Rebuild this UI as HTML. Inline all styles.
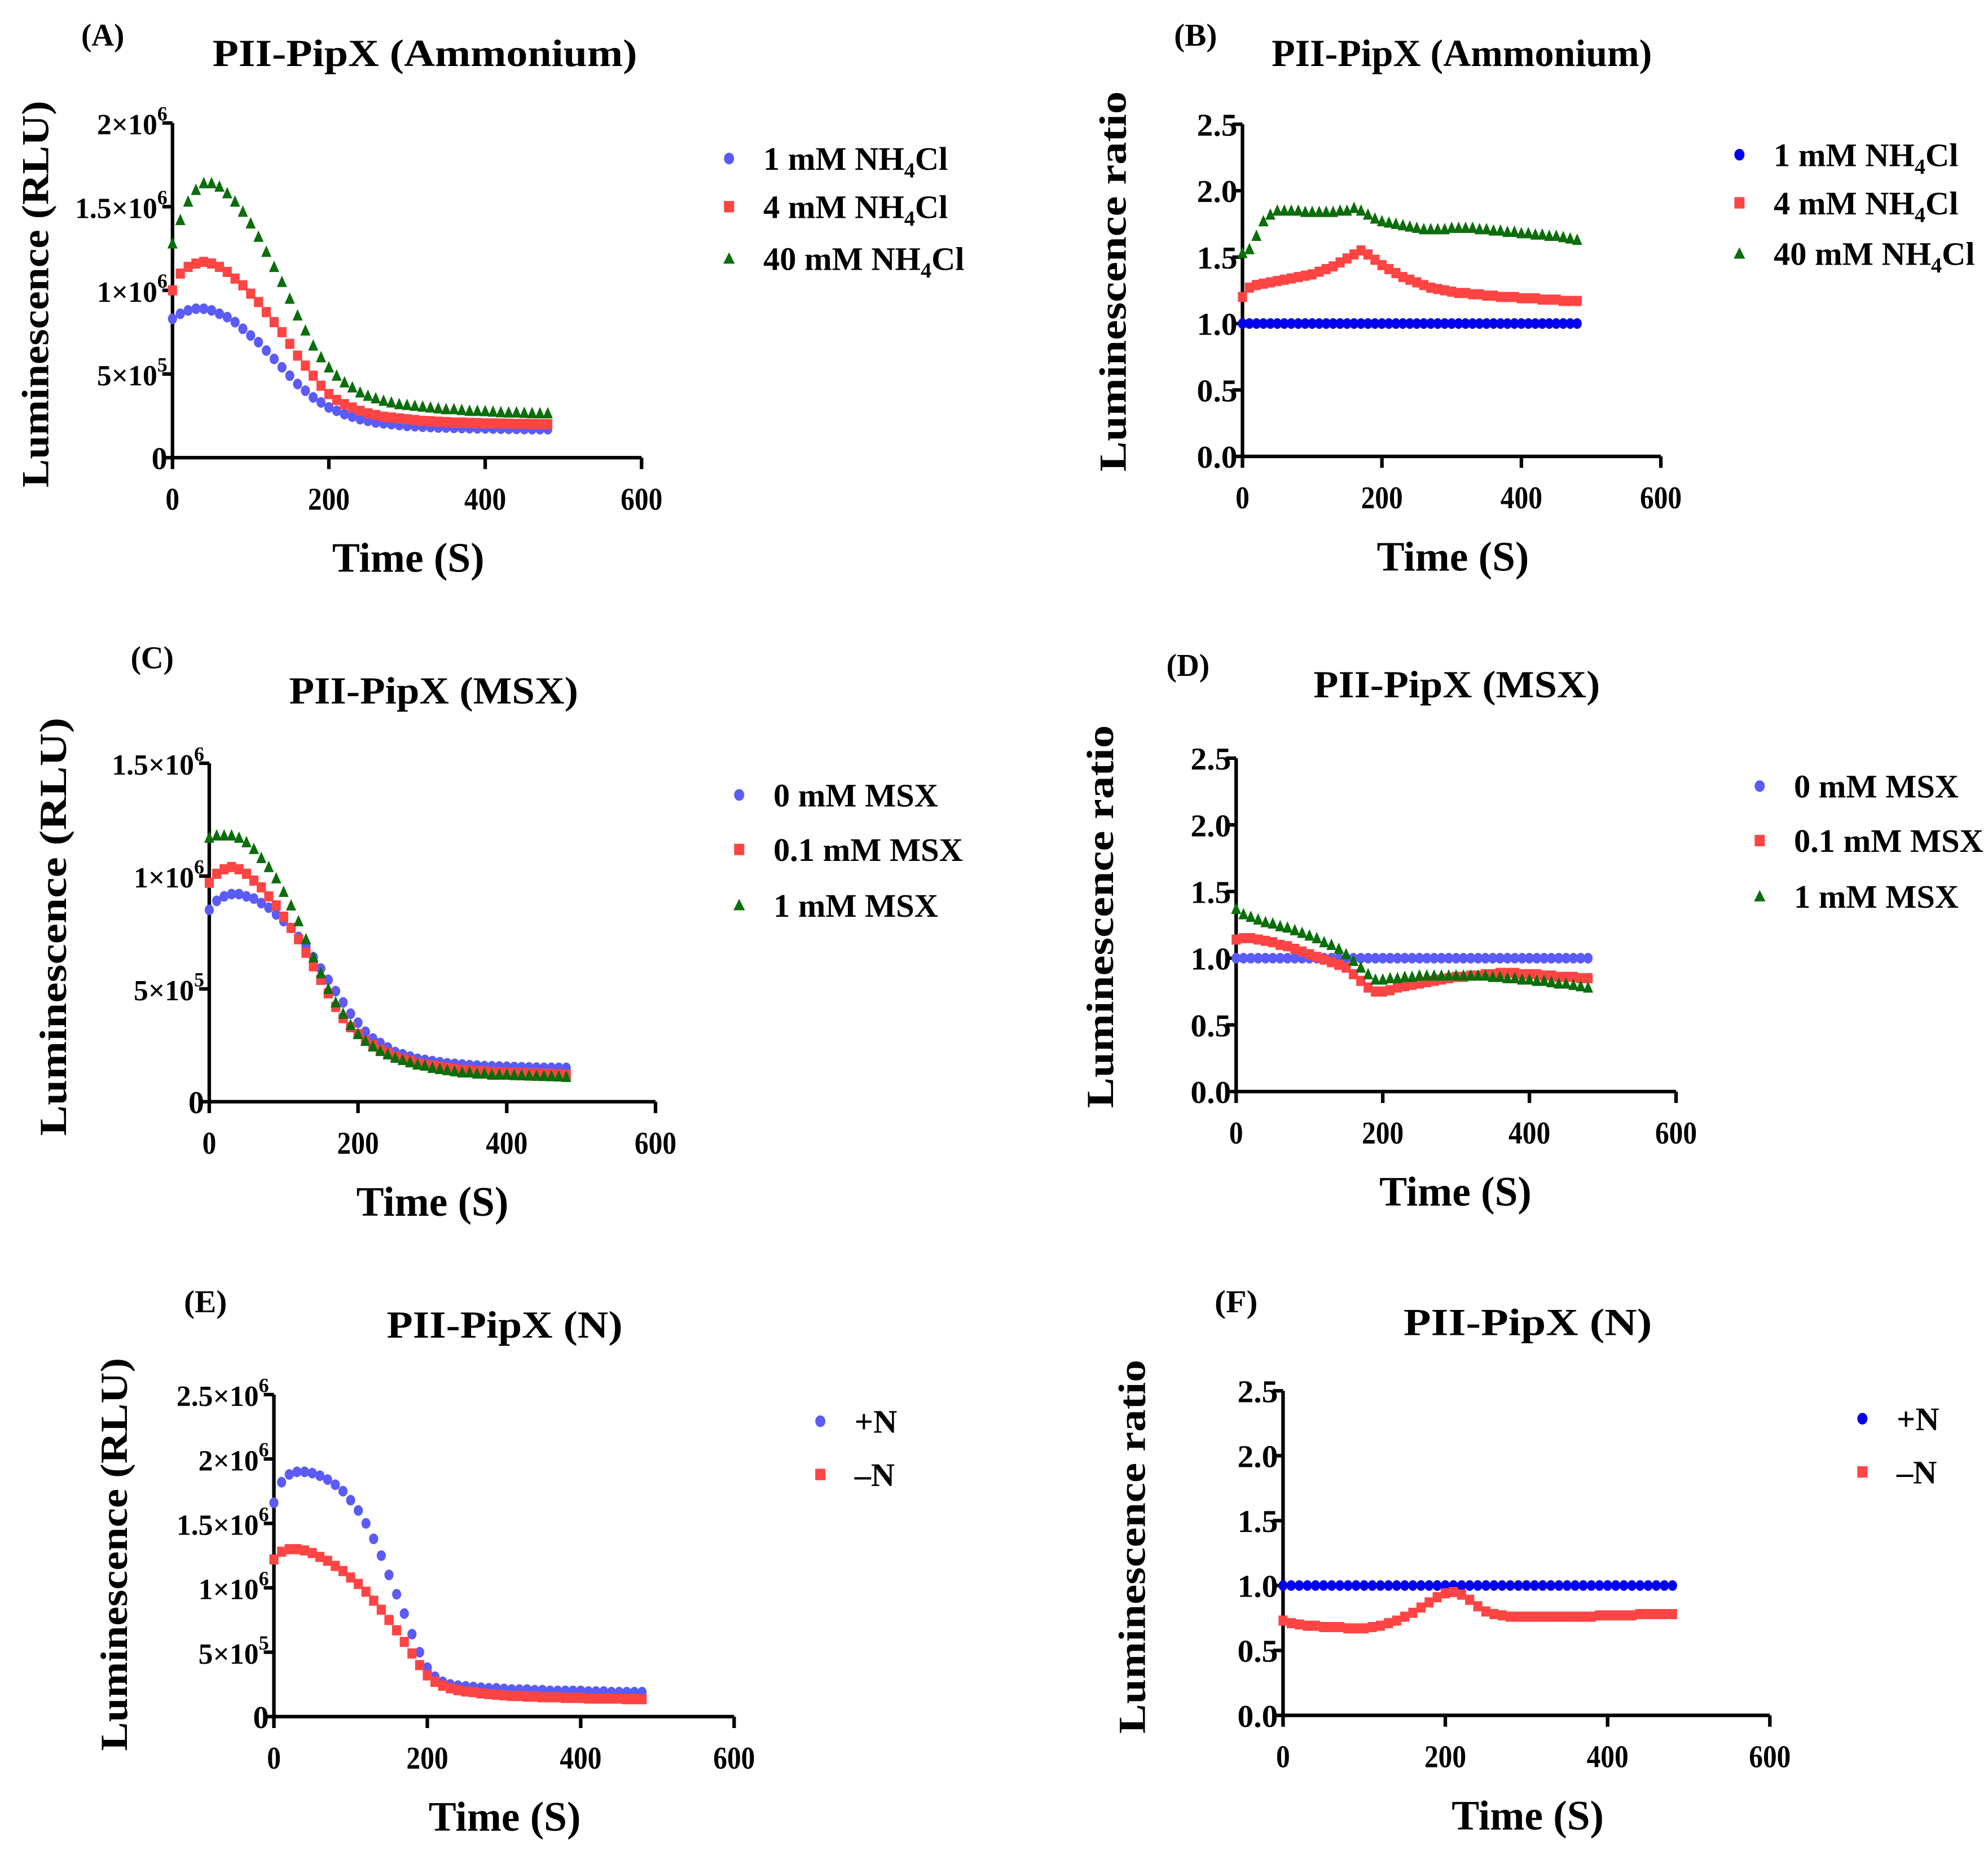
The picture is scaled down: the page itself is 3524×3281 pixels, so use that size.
<!DOCTYPE html>
<html><head><meta charset="utf-8"><style>
html,body{margin:0;padding:0;background:#fff}
svg{display:block}
text{font-family:"Liberation Serif","Times New Roman",serif;font-weight:bold;fill:#000}
</style></head><body>
<svg id="fig" width="3524" height="3281" viewBox="0 0 1568 1460" xmlns="http://www.w3.org/2000/svg"></svg>
<script>
const times=[0,10,20,30,40,50,60,70,80,90,100,110,120,130,140,150,160,170,180,190,200,210,220,230,240,250,260,270,280,290,300,310,320,330,340,350,360,370,380,390,400,410,420,430,440,450,460,470,480];
const xTicks=[0,200,400,600];
// Panel A (x1e6)
const a1=[.83,.86,.88,.89,.89,.88,.86,.84,.81,.77,.73,.69,.64,.59,.54,.49,.44,.40,.36,.33,.30,.28,.26,.245,.23,.22,.21,.205,.20,.195,.19,.188,.185,.183,.18,.18,.178,.177,.176,.175,.175,.174,.173,.172,.172,.171,.17,.17,.17];
const a4=[1.0,1.10,1.14,1.16,1.17,1.16,1.14,1.11,1.07,1.03,.98,.93,.87,.81,.75,.68,.61,.55,.49,.43,.38,.345,.32,.30,.28,.265,.255,.245,.24,.235,.23,.225,.22,.218,.215,.213,.21,.21,.208,.207,.205,.205,.204,.203,.202,.202,.201,.20,.20];
const a40=[1.28,1.42,1.53,1.60,1.64,1.64,1.62,1.58,1.53,1.47,1.40,1.32,1.23,1.14,1.05,.95,.85,.76,.67,.60,.54,.49,.45,.42,.39,.37,.355,.34,.33,.32,.315,.31,.305,.30,.295,.29,.29,.285,.28,.28,.278,.275,.272,.27,.27,.268,.266,.265,.265];
// Panel B ratios
const b1=[1,1,1,1,1,1,1,1,1,1,1,1,1,1,1,1,1,1,1,1,1,1,1,1,1,1,1,1,1,1,1,1,1,1,1,1,1,1,1,1,1,1,1,1,1,1,1,1,1];
const b4=[1.2,1.27,1.29,1.30,1.31,1.32,1.33,1.34,1.35,1.36,1.37,1.39,1.41,1.43,1.46,1.49,1.52,1.55,1.52,1.48,1.44,1.41,1.38,1.35,1.33,1.31,1.29,1.27,1.26,1.25,1.24,1.23,1.23,1.22,1.22,1.21,1.21,1.20,1.20,1.20,1.19,1.19,1.19,1.18,1.18,1.18,1.17,1.17,1.17];
const b40=[1.53,1.56,1.66,1.77,1.82,1.85,1.85,1.85,1.85,1.84,1.84,1.84,1.84,1.84,1.85,1.85,1.87,1.85,1.82,1.79,1.77,1.76,1.75,1.74,1.73,1.72,1.71,1.71,1.71,1.71,1.72,1.72,1.72,1.72,1.71,1.71,1.70,1.70,1.69,1.69,1.68,1.68,1.67,1.67,1.66,1.66,1.65,1.64,1.63];
// Panel C (x1e6)
const c0=[.85,.89,.91,.92,.92,.91,.90,.88,.86,.83,.80,.77,.73,.69,.64,.59,.54,.49,.44,.39,.35,.31,.28,.26,.24,.22,.21,.20,.19,.185,.18,.175,.17,.168,.165,.162,.16,.158,.157,.156,.155,.154,.153,.152,.151,.15,.15,.15,.15];
const c01=[.97,1.01,1.03,1.04,1.03,1.01,.98,.95,.91,.87,.82,.77,.72,.66,.60,.54,.48,.42,.37,.33,.30,.27,.25,.23,.215,.20,.19,.18,.17,.165,.16,.155,.15,.145,.14,.14,.135,.135,.13,.13,.13,.128,.127,.126,.125,.124,.123,.122,.12];
const c1=[1.17,1.18,1.18,1.18,1.17,1.15,1.12,1.08,1.04,.99,.93,.87,.80,.72,.64,.57,.50,.44,.39,.34,.30,.27,.245,.225,.21,.195,.185,.175,.165,.16,.15,.145,.14,.135,.13,.13,.125,.125,.12,.12,.12,.118,.117,.116,.115,.114,.113,.112,.11];
// Panel D ratios
const d0=[1,1,1,1,1,1,1,1,1,1,1,1,1,1,1,1,1,1,1,1,1,1,1,1,1,1,1,1,1,1,1,1,1,1,1,1,1,1,1,1,1,1,1,1,1,1,1,1,1];
const d01=[1.14,1.15,1.15,1.14,1.13,1.12,1.10,1.09,1.07,1.05,1.03,1.01,.99,.97,.95,.93,.88,.83,.78,.75,.75,.76,.78,.79,.80,.81,.82,.83,.84,.85,.86,.86,.87,.87,.88,.88,.89,.89,.89,.88,.88,.88,.87,.87,.86,.86,.86,.85,.85];
const d1=[1.37,1.33,1.31,1.29,1.27,1.26,1.24,1.23,1.21,1.19,1.17,1.15,1.12,1.10,1.07,1.03,.98,.93,.88,.84,.84,.85,.85,.86,.86,.87,.87,.87,.87,.87,.87,.87,.87,.87,.87,.86,.86,.85,.85,.84,.84,.83,.83,.82,.81,.81,.80,.79,.78];
// Panel E (x1e6)
const ePlus=[1.66,1.82,1.88,1.90,1.90,1.89,1.87,1.84,1.80,1.75,1.68,1.60,1.50,1.38,1.25,1.10,.95,.80,.64,.50,.38,.31,.27,.25,.24,.235,.23,.225,.22,.22,.215,.21,.21,.21,.205,.205,.20,.20,.20,.20,.20,.195,.195,.195,.19,.19,.19,.19,.19];
const eMinus=[1.22,1.28,1.30,1.30,1.29,1.27,1.24,1.21,1.17,1.13,1.08,1.03,.97,.90,.83,.75,.67,.58,.49,.40,.32,.27,.24,.22,.205,.195,.19,.18,.175,.17,.165,.16,.16,.155,.155,.15,.15,.15,.145,.145,.145,.14,.14,.14,.14,.14,.135,.135,.135];
// Panel F ratios
const fPlus=[1,1,1,1,1,1,1,1,1,1,1,1,1,1,1,1,1,1,1,1,1,1,1,1,1,1,1,1,1,1,1,1,1,1,1,1,1,1,1,1,1,1,1,1,1,1,1,1,1];
const fMinus=[.73,.71,.70,.69,.69,.68,.68,.68,.67,.67,.67,.68,.69,.71,.73,.76,.79,.83,.87,.91,.94,.95,.93,.89,.84,.80,.78,.77,.76,.76,.76,.76,.76,.76,.76,.76,.76,.76,.76,.77,.77,.77,.77,.77,.78,.78,.78,.78,.78];
const sciTicks2=[0,0.5,1,1.5,2];
const sciTicks15=[0,0.5,1,1.5];
const sciTicks25=[0,0.5,1,1.5,2,2.5];
const ratioTicks=[0,0.5,1,1.5,2,2.5];

const NS="http://www.w3.org/2000/svg";
const svg=document.getElementById('fig');
function mk(tag,attrs,parent){const e=document.createElementNS(NS,tag);for(const k in attrs)e.setAttribute(k,attrs[k]);(parent||svg).appendChild(e);return e;}
function sciLabel(v){
  if(v===0)return ['0',''];
  if(v<1){return [(v*10).toString()+'×10','5'];}
  return [v.toString()+'×10','6'];
}
function drawPanel(P){
  const g=mk('g',{});
  
  
  const xs=t=>P.x0+(t/600)*(P.x1-P.x0);
  const ys=v=>P.y0-(v/P.ymax)*(P.y0-P.y1);
  let t=mk('text',{x:P.lx,y:P.ly,'font-size':25,textLength:34,lengthAdjust:'spacingAndGlyphs'},g);t.textContent=P.letter;
  
  t=mk('text',{x:P.tx,y:P.ty,'font-size':30,'text-anchor':'middle',textLength:P.tl,lengthAdjust:'spacingAndGlyphs'},g);t.textContent=P.title;
  
  t=mk('text',{x:0,y:0,'font-size':30,'text-anchor':'middle',transform:`translate(${P.yx},${P.yc}) rotate(-90)`,textLength:P.yl,lengthAdjust:'spacingAndGlyphs'},g);t.textContent=P.ylabel;
  
  t=mk('text',{x:P.xlx,y:P.y0+90,'font-size':33,'text-anchor':'middle',textLength:120,lengthAdjust:'spacingAndGlyphs'},g);t.textContent='Time (S)';
  
  let a=mk('line',{x1:P.x0,y1:P.y0,x2:P.x1,y2:P.y0,stroke:'#000','stroke-width':2.8},g);
  
  a=mk('line',{x1:P.x0,y1:P.y0+1.4,x2:P.x0,y2:P.y1,stroke:'#000','stroke-width':2.8},g);
  
  xTicks.forEach(v=>{
    const x=xs(v);
    let l=mk('line',{x1:x,y1:P.y0,x2:x,y2:P.y0+9,stroke:'#000','stroke-width':2.8},g);
    
    let tx=mk('text',{x:x,y:P.y0+41,'font-size':25,'text-anchor':'middle',textLength:(''+v).length*11,lengthAdjust:'spacingAndGlyphs'},g);tx.textContent=v;
    
  });
  P.yticks.forEach(v=>{
    const y=ys(v);
    let l=mk('line',{x1:P.x0-8,y1:y,x2:P.x0,y2:y,stroke:'#000','stroke-width':2.8},g);
    
    let tx=mk('text',{x:P.x0-4,y:y+9,'font-size':25,'text-anchor':'end'},g);
    
    if(P.sci){
      const [m,e]=sciLabel(v);
      if(e){
        tx.setAttribute('font-size',23);
        tx.setAttribute('font-weight','normal');
        tx.appendChild(document.createTextNode(m));
        const s=mk('tspan',{dy:-11,'font-size':16},tx);s.textContent=e;
      } else tx.textContent=m;
    }else{tx.textContent=v.toFixed(1);tx.setAttribute('textLength',32);tx.setAttribute('lengthAdjust','spacingAndGlyphs');}
  });
  P.series.forEach((S,si)=>{
    const sg=mk('g',{fill:S.color},g);
    
    S.data.forEach((v,i)=>{
      const x=xs(times[i]),y=ys(v);let m;
      if(S.shape==='c')m=mk('ellipse',{cx:x,cy:y,rx:3.6,ry:4.2},sg);
      else if(S.shape==='s')m=mk('rect',{x:x-3.6,y:y-4,width:7.2,height:8},sg);
      else m=mk('polygon',{points:`${x},${y-5} ${x-4},${y+4} ${x+4},${y+4}`},sg);
      
    });
    const ly=P.legY[si],lx=P.legX;
    const lg=mk('g',{},g);
    
    let m;
    if(S.shape==='c')m=mk('ellipse',{cx:lx,cy:ly,rx:4,ry:4.6,fill:S.color},lg);
    else if(S.shape==='s')m=mk('rect',{x:lx-4,y:ly-4.5,width:8,height:9,fill:S.color},lg);
    else m=mk('polygon',{points:`${lx},${ly-5} ${lx-4.5},${ly+4} ${lx+4.5},${ly+4}`,fill:S.color},lg);
    
    const tx=mk('text',{x:lx+27,y:ly+9,'font-size':26},lg);
    
    if(S.label.includes('NH4')){
      const parts=S.label.split('NH4');
      tx.appendChild(document.createTextNode(parts[0]+'NH'));
      const s1=mk('tspan',{dy:6,'font-size':17},tx);s1.textContent='4';
      const s2=mk('tspan',{dy:-6},tx);s2.textContent='Cl';
    }else tx.textContent=S.label;
  });
}
const LB='#5b5bf7',DB='#0000ee',RD='#ff4444',GR='#0a6e0a';
drawPanel({id:'a',letter:'(A)',lx:64,ly:36,title:'PII-PipX (Ammonium)',tx:335,ty:52,tl:335,ylabel:'Luminescence (RLU)',yx:38,yc:232,yl:305,xlx:322,
  x0:136,x1:506,y0:361,y1:97,ymax:2,sci:true,yticks:sciTicks2,legX:575,legY:[125,163,204],
  series:[{key:'1mM',data:a1,color:LB,shape:'c',label:'1 mM NH4Cl'},{key:'4mM',data:a4,color:RD,shape:'s',label:'4 mM NH4Cl'},{key:'40mM',data:a40,color:GR,shape:'t',label:'40 mM NH4Cl'}]});
drawPanel({id:'b',letter:'(B)',lx:926,ly:36,title:'PII-PipX (Ammonium)',tx:1153,ty:52,tl:300,ylabel:'Luminescence ratio',yx:888,yc:222,yl:300,xlx:1146,
  x0:980,x1:1310,y0:360,y1:98,ymax:2.5,sci:false,yticks:ratioTicks,legX:1372,legY:[122,160,200],
  series:[{key:'1mM',data:b1,color:DB,shape:'c',label:'1 mM NH4Cl'},{key:'4mM',data:b4,color:RD,shape:'s',label:'4 mM NH4Cl'},{key:'40mM',data:b40,color:GR,shape:'t',label:'40 mM NH4Cl'}]});
drawPanel({id:'c',letter:'(C)',lx:103,ly:527,title:'PII-PipX (MSX)',tx:342,ty:555,tl:228,ylabel:'Luminescence (RLU)',yx:52,yc:731,yl:330,xlx:341,
  x0:165,x1:517,y0:869,y1:602,ymax:1.5,sci:true,yticks:sciTicks15,legX:583,legY:[627,670,714],
  series:[{key:'0mM',data:c0,color:LB,shape:'c',label:'0 mM MSX'},{key:'0.1mM',data:c01,color:RD,shape:'s',label:'0.1 mM MSX'},{key:'1mM',data:c1,color:GR,shape:'t',label:'1 mM MSX'}]});
drawPanel({id:'d',letter:'(D)',lx:920,ly:533,title:'PII-PipX (MSX)',tx:1149,ty:550,tl:226,ylabel:'Luminescence ratio',yx:878,yc:723,yl:302,xlx:1148,
  x0:975,x1:1322,y0:861,y1:598,ymax:2.5,sci:false,yticks:ratioTicks,legX:1388,legY:[620,663,707],
  series:[{key:'0mM',data:d0,color:LB,shape:'c',label:'0 mM MSX'},{key:'0.1mM',data:d01,color:RD,shape:'s',label:'0.1 mM MSX'},{key:'1mM',data:d1,color:GR,shape:'t',label:'1 mM MSX'}]});
drawPanel({id:'e',letter:'(E)',lx:145,ly:1035,title:'PII-PipX (N)',tx:398,ty:1055,tl:186,ylabel:'Luminescence (RLU)',yx:100,yc:1226,yl:310,xlx:398,
  x0:216,x1:579,y0:1354,y1:1100,ymax:2.5,sci:true,yticks:sciTicks25,legX:647,legY:[1121,1163],
  series:[{key:'plusN',data:ePlus,color:LB,shape:'c',label:'+N'},{key:'minusN',data:eMinus,color:RD,shape:'s',label:'–N'}]});
drawPanel({id:'f',letter:'(F)',lx:958,ly:1035,title:'PII-PipX (N)',tx:1205,ty:1053,tl:196,ylabel:'Luminescence ratio',yx:903,yc:1220,yl:295,xlx:1205,
  x0:1012,x1:1396,y0:1353,y1:1097,ymax:2.5,sci:false,yticks:ratioTicks,legX:1469,legY:[1119,1161],
  series:[{key:'plusN',data:fPlus,color:DB,shape:'c',label:'+N'},{key:'minusN',data:fMinus,color:RD,shape:'s',label:'–N'}]});
</script>
</body></html>
